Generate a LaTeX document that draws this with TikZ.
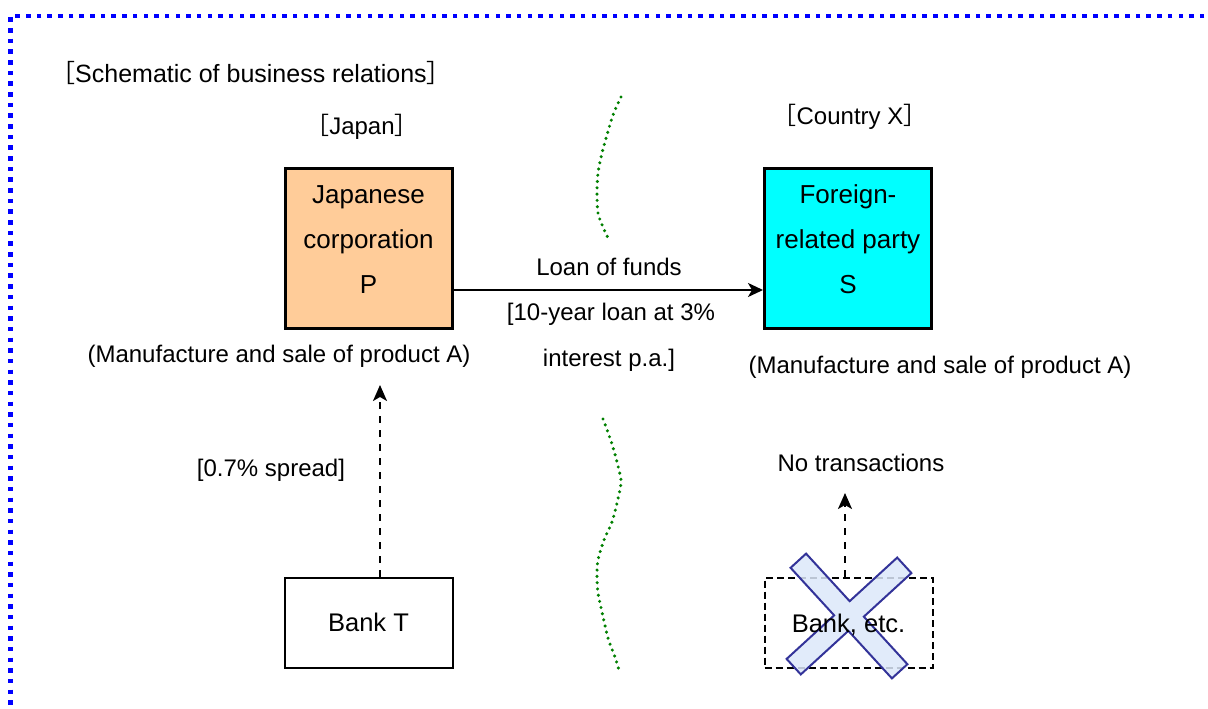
\documentclass[tikz,border=0pt]{standalone}
\usepackage{fontspec}
\setmainfont{Liberation Sans}
\newfontfamily\cjk{Noto Sans CJK JP}
\usetikzlibrary{arrows.meta}
\definecolor{porange}{HTML}{FFCC99}
\definecolor{scyan}{HTML}{00FFFF}
\definecolor{xfill}{HTML}{DCE8FA}
\definecolor{xline}{HTML}{333399}
\definecolor{dgreen}{HTML}{008000}
\newcommand{\lb}{{\cjk［}}
\newcommand{\rb}{{\cjk］}}
\begin{document}
\begin{tikzpicture}[x=1pt,y=-1pt,
  bigbox/.style={draw=black, line width=3pt, minimum width=167pt, minimum height=160pt, inner sep=0pt},
  boxtext/.style={align=center, font=\fontsize{26}{45}\selectfont, inner sep=0pt},
  lbl/.style={font=\fontsize{24}{28}\selectfont, inner sep=0pt},
  bankbox/.style={draw=black, line width=2pt, minimum width=168pt, minimum height=90pt, inner sep=0pt, font=\fontsize{25.5}{30}\selectfont},
  dashbox/.style={draw=black, line width=2pt, dash pattern=on 7pt off 4pt, minimum width=168pt, minimum height=90pt, inner sep=0pt},
  solidarrow/.style={line width=2pt, -{Stealth[length=15pt,width=14pt,inset=4pt]}},
  dasharrow/.style={line width=2pt, dash pattern=on 7pt off 7pt, -{Stealth[length=16pt,width=14pt,inset=4pt]}},
  border/.style={draw=blue, line width=4.5pt, dash pattern=on 4.5pt off 6.17pt},
  wave/.style={draw=dgreen, line width=3.4pt, line cap=round, dash pattern=on 0pt off 6.3pt},
  xmark/.style={fill=xfill, fill opacity=0.85, draw=xline, line width=2pt, line join=miter}
]
\clip (0,0) rectangle (1208,709);
\fill[white] (0,0) rectangle (1208,709);

% border
\draw[border] (1215,16) -- (10.7,16) -- (10.7,720);

% title and region labels
\node[lbl, anchor=west, font=\fontsize{25}{28}\selectfont] (title) at (50,73) {\lb Schematic of business relations\rb};
\node[lbl] (japan) at (362,127) {\lb Japan\rb};
\node[lbl] (cx) at (850,117) {\lb Country X\rb};

% main boxes
\node[bigbox, fill=porange] (P) at (368.5,248.5) {};
\node[boxtext] (Ptext) at ([yshift=9pt]P.center) {Japanese\\corporation\\P};
\node[bigbox, fill=scyan] (S) at (848,248.5) {};
\node[boxtext] (Stext) at ([yshift=9pt]S.center) {Foreign-\\related party\\S};

% loan arrow
\coordinate (pa) at (452,290);
\draw[solidarrow] (P.east |- pa) -- (S.west |- pa);
\node[lbl] (l1) at (609,267) {Loan of funds};
\node[lbl] (l2) at (611,314) {[10-year loan at 3\%};
\node[lbl] (l3) at (609,360) {interest p.a.]};

% activity labels
\node[lbl] (actP) at (279,356) {(Manufacture and sale of product A)};
\node[lbl] (actS) at (940,367) {(Manufacture and sale of product A)};

% border wavy lines
\draw[wave] plot[smooth] coordinates {(621,97) (613,115) (607,135) (602,153) (598,173) (597,193) (598,213) (603,227) (608,238)};
\draw[wave] plot[smooth] coordinates {(603,419) (612,444) (619,470) (621,483) (617,503) (612,522) (604,540) (598,560) (597,577) (598,593) (602,612) (608,638) (615,657) (619,670)};

% Bank T
\node[bankbox] (T) at (368.5,622.5) {Bank T};
\coordinate (tA) at (380,385);
\draw[dasharrow] (T.north -| tA) -- (tA);
\node[lbl] (spread) at (271,470) {[0.7\% spread]};

% Bank etc
\node[dashbox] (B) at (848.5,622.5) {};
\coordinate (bA) at (845,493);
\draw[dasharrow] (B.north -| bA) -- (bA);
\node[lbl] (notx) at (861,463) {No transactions};
\begin{scope}[shift={(849,616)}, rotate=-47.5]
\draw[xmark] (10.5,10.5) -- (75,10.5) -- (75,-10.5) -- (10.5,-10.5) -- (10.5,-75) -- (-10.5,-75) -- (-10.5,-10.5) -- (-75,-10.5) -- (-75,10.5) -- (-10.5,10.5) -- (-10.5,75) -- (10.5,75) -- cycle;
\end{scope}
\node[font=\fontsize{25.5}{30}\selectfont, inner sep=0pt] (Btext) at ([yshift=-2pt]B.center) {Bank, etc.};
\end{tikzpicture}
\end{document}
